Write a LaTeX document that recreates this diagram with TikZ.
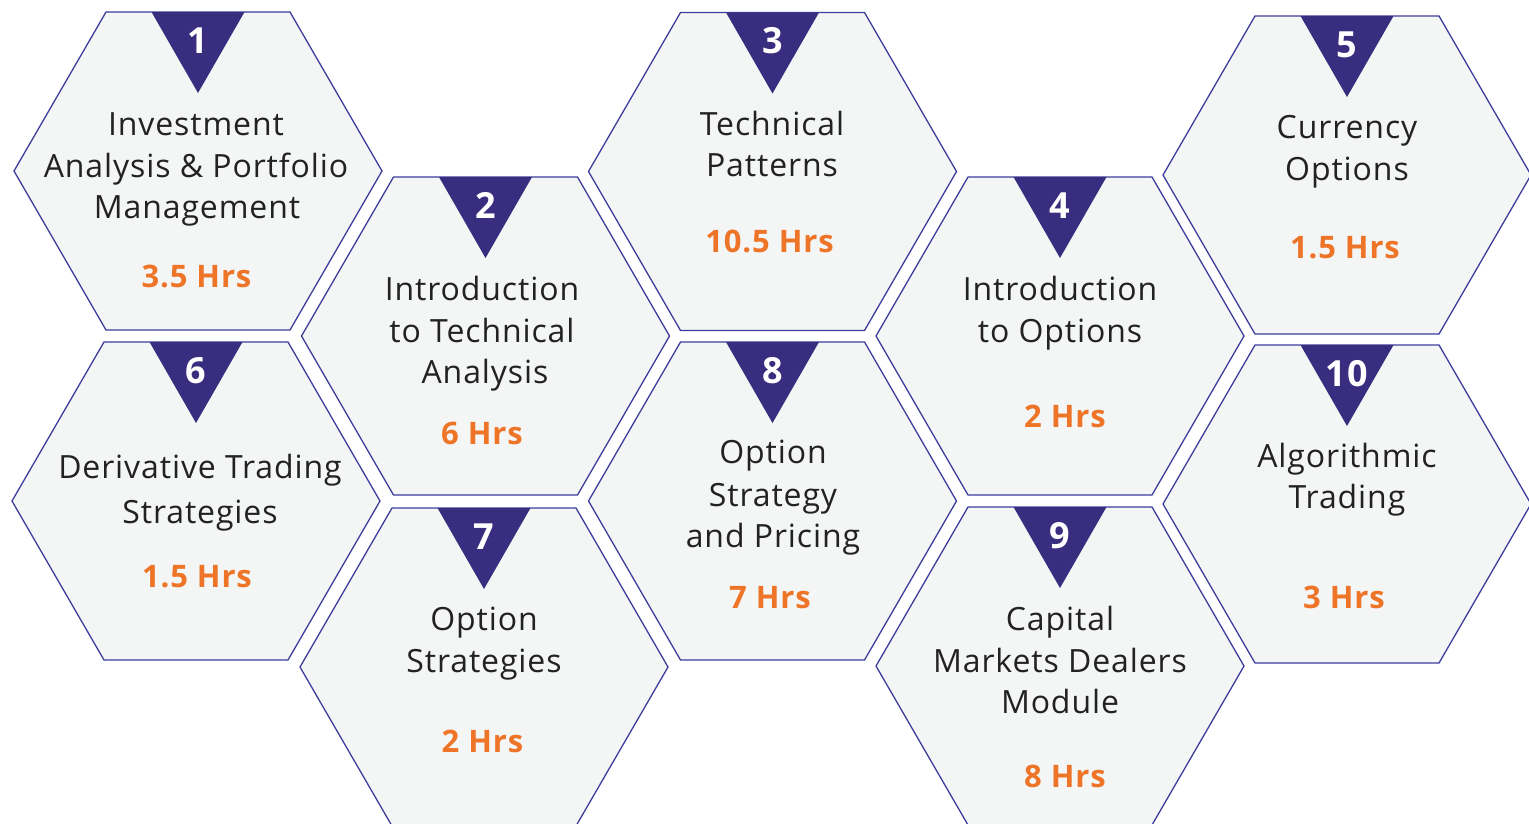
\documentclass[tikz,border=0pt]{standalone}
\usepackage{fontspec}
\setmainfont{Open Sans}[LetterSpace=2.8]
\definecolor{hexfill}{HTML}{F4F5F5}
\definecolor{hexline}{HTML}{3D3D9E}
\definecolor{navy}{HTML}{382D7E}
\definecolor{orangec}{HTML}{EE7427}
\definecolor{textc}{HTML}{222222}
\newcommand\hexcell[4]{%
  \draw[hexa] (#2-184,#3) -- (#2-92,#3-159) -- (#2+92,#3-159) -- (#2+184,#3) -- (#2+92,#3+159) -- (#2-92,#3+159) -- cycle;
  \fill[tri] (#2-46.5,#3-159) -- (#2+46.5,#3-159) -- (#2,#3-78) -- cycle;
  \node[num] (#1n) at (#2,#3-118) {#4};
}
\begin{document}
\begin{tikzpicture}[x=1pt,y=-1pt,
  hexa/.style={fill=hexfill, draw=hexline, line width=1.3pt, line join=miter},
  tri/.style={fill=navy},
  num/.style={text=white, font=\fontsize{36}{36}\selectfont\bfseries, anchor=base, inner sep=0pt},
  lbl/.style={text=textc, font=\fontsize{32}{42}\selectfont, anchor=base, inner sep=0pt},
  hrs/.style={text=orangec, font=\fontsize{31}{31}\selectfont\bfseries, anchor=base, inner sep=0pt}]
\useasboundingbox (0,0) rectangle (1529,823);
\hexcell{h1}{198}{171}{1}
\hexcell{h2}{485.5}{336}{2}
\hexcell{h3}{772.5}{171.5}{3}
\hexcell{h4}{1060}{336}{4}
\hexcell{h5}{1347}{175}{5}
\hexcell{h6}{196}{501}{6}
\hexcell{h7}{484}{667}{7}
\hexcell{h8}{772.5}{501}{8}
\hexcell{h9}{1060}{666}{9}
\hexcell{h10}{1347}{504}{10}
% 1
\node[lbl] (t1a) at (196,135) {Investment};
\node[lbl] (t1b) at (196,177) {Analysis \& Portfolio};
\node[lbl] (t1c) at (197,218) {Management};
\node[hrs] (r1) at (196.5,287) {3.5 Hrs};
% 2
\node[lbl] (t2a) at (482,300) {Introduction};
\node[lbl] (t2b) at (482,342) {to Technical};
\node[lbl] (t2c) at (485,383) {Analysis};
\node[hrs] (r2) at (482,444) {6 Hrs};
% 3
\node[lbl] (t3a) at (772,135) {Technical};
\node[lbl] (t3b) at (772,176) {Patterns};
\node[hrs] (r3) at (769.5,252) {10.5 Hrs};
% 4
\node[lbl] (t4a) at (1060,300) {Introduction};
\node[lbl] (t4b) at (1060,342) {to Options};
\node[hrs] (r4) at (1065,427) {2 Hrs};
% 5
\node[lbl] (t5a) at (1347,138) {Currency};
\node[lbl] (t5b) at (1347,180) {Options};
\node[hrs] (r5) at (1345,258) {1.5 Hrs};
% 6
\node[lbl] (t6a) at (200,478) {Derivative Trading};
\node[lbl] (t6b) at (200,523) {Strategies};
\node[hrs] (r6) at (197,587) {1.5 Hrs};
% 7
\node[lbl] (t7a) at (484,630) {Option};
\node[lbl] (t7b) at (484,672) {Strategies};
\node[hrs] (r7) at (482.5,752) {2 Hrs};
% 8
\node[lbl] (t8a) at (773,463) {Option};
\node[lbl] (t8b) at (773,506) {Strategy};
\node[lbl] (t8c) at (773,547) {and Pricing};
\node[hrs] (r8) at (770,608) {7 Hrs};
% 9
\node[lbl] (t9a) at (1060,630) {Capital};
\node[lbl] (t9b) at (1060,672) {Markets Dealers};
\node[lbl] (t9c) at (1060,713) {Module};
\node[hrs] (r9) at (1065,787) {8 Hrs};
% 10
\node[lbl] (t10a) at (1347,467) {Algorithmic};
\node[lbl] (t10b) at (1347,508) {Trading};
\node[hrs] (r10) at (1344,608) {3 Hrs};
\end{tikzpicture}
\end{document}
